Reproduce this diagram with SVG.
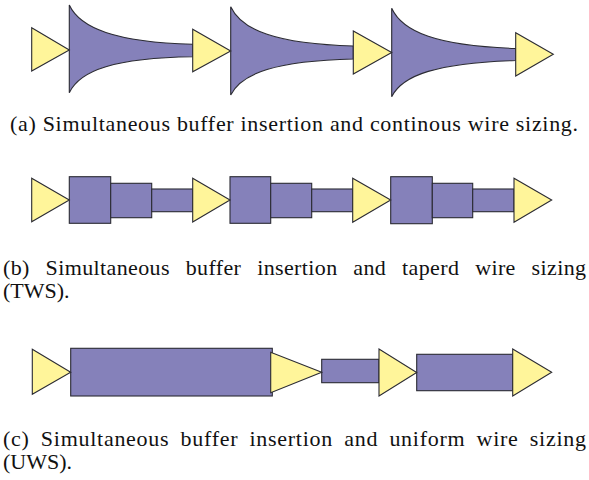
<svg xmlns="http://www.w3.org/2000/svg" width="589" height="480" viewBox="0 0 589 480">
  <style>
    .wire { fill: #8581BA; stroke: #2b2b33; stroke-width: 1.1; stroke-linejoin: miter; }
    .buf { fill: #FFF59A; stroke: #2b2b33; stroke-width: 1.1; stroke-linejoin: miter; }
    text { font-family: 'Liberation Serif', 'DejaVu Serif', serif; font-size: 22px; fill: #111; }
  </style>
  <rect width="589" height="480" fill="#ffffff"/>

  <!-- (a) continuous wire sizing: horn-shaped wires -->
  <g id="row-a">
    <g id="a-wire1"><path class="wire" d="M69.3,5 C80,28 115,42 192.7,44.3 L192.7,56.7 C115,58 80,70 69.3,92.7 Z"/></g>
    <g id="a-wire2"><path class="wire" d="M230.7,6.7 C241.5,30 276,44 353.3,46 L353.3,59 C276,61 241.5,73 230.7,95 Z"/></g>
    <g id="a-wire3"><path class="wire" d="M391.7,8.3 C402.5,32 437,46 515.7,48.5 L515.7,60.5 C437,63 402.5,75 391.7,96.7 Z"/></g>
    <g id="a-buf1"><polygon class="buf" points="31.7,27.7 31.7,71 69.3,50"/></g>
    <g id="a-buf2"><polygon class="buf" points="192.7,29.3 192.7,71.7 230.7,51"/></g>
    <g id="a-buf3"><polygon class="buf" points="353.3,31 353.3,74 391.7,52.5"/></g>
    <g id="a-buf4"><polygon class="buf" points="515.7,32.7 515.7,76 553.3,54.3"/></g>
  </g>
  <text font-family="Liberation Serif, serif" x="10" y="131" textLength="568" lengthAdjust="spacing">(a) Simultaneous buffer insertion and continous wire sizing.</text>

  <!-- (b) tapered wire sizing: stepped segments -->
  <g id="row-b">
    <g id="b-seg1"><rect class="wire" x="69.3" y="176.7" width="41.4" height="46.6"/></g>
    <g id="b-seg2"><rect class="wire" x="110.7" y="183.3" width="41" height="34.4"/></g>
    <g id="b-seg3"><rect class="wire" x="151.7" y="189" width="41" height="22.7"/></g>
    <g id="b-seg4"><rect class="wire" x="230" y="176.7" width="40.7" height="46.6"/></g>
    <g id="b-seg5"><rect class="wire" x="270.7" y="183.3" width="41" height="34.4"/></g>
    <g id="b-seg6"><rect class="wire" x="311.7" y="189" width="41" height="22.7"/></g>
    <g id="b-seg7"><rect class="wire" x="390.7" y="176.7" width="41.6" height="47"/></g>
    <g id="b-seg8"><rect class="wire" x="432.3" y="183.3" width="40.4" height="34.4"/></g>
    <g id="b-seg9"><rect class="wire" x="472.7" y="189" width="41.3" height="22.7"/></g>
    <g id="b-buf1"><polygon class="buf" points="31.7,178.3 31.7,221.7 69.3,200"/></g>
    <g id="b-buf2"><polygon class="buf" points="192.7,178.3 192.7,222 230,200"/></g>
    <g id="b-buf3"><polygon class="buf" points="352.7,178.3 352.7,222.3 390.7,200"/></g>
    <g id="b-buf4"><polygon class="buf" points="514,178.3 514,222.3 551.7,200"/></g>
  </g>
  <text font-family="Liberation Serif, serif" x="3" y="275" textLength="583" lengthAdjust="spacing" word-spacing="10">(b) Simultaneous buffer insertion and taperd wire sizing</text>
  <text font-family="Liberation Serif, serif" x="3" y="298">(TWS).</text>

  <!-- (c) uniform wire sizing: one width per segment -->
  <g id="row-c">
    <g id="c-seg1"><rect class="wire" x="70.7" y="348.3" width="201.6" height="47.7"/></g>
    <g id="c-seg2"><rect class="wire" x="321.7" y="359.3" width="57.3" height="23.4"/></g>
    <g id="c-seg3"><rect class="wire" x="416.7" y="354.3" width="96" height="36.4"/></g>
    <g id="c-buf1"><polygon class="buf" points="32.3,349.3 32.3,394.3 70.7,372.3"/></g>
    <g id="c-buf2"><polygon class="buf" points="270.7,352.3 270.7,392.7 321.7,372.3"/></g>
    <g id="c-buf3"><polygon class="buf" points="379,349 379,396 416.7,372.5"/></g>
    <g id="c-buf4"><polygon class="buf" points="512.7,349 512.7,396 551.7,372.3"/></g>
  </g>
  <text font-family="Liberation Serif, serif" x="3" y="446" textLength="583" lengthAdjust="spacing" word-spacing="5">(c) Simultaneous buffer insertion and uniform wire sizing</text>
  <text font-family="Liberation Serif, serif" x="3" y="469">(UWS).</text>
</svg>
